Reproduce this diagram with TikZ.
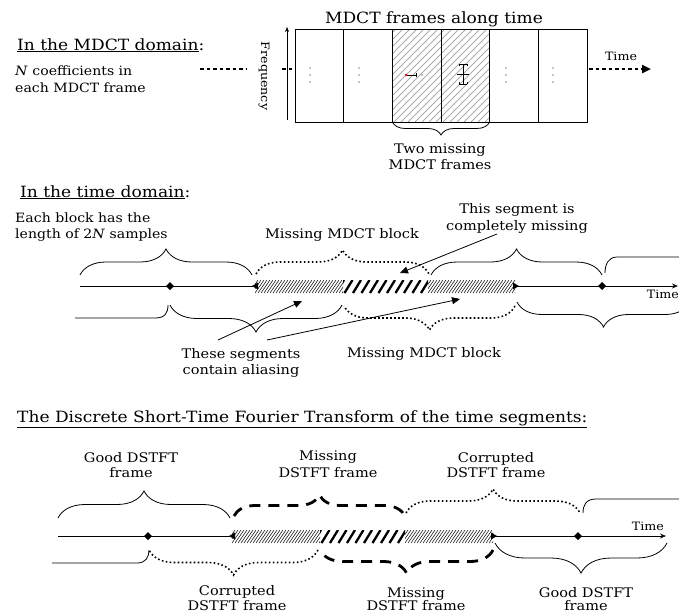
\documentclass[tikz,border=0pt]{standalone}
\usepackage{fontspec}
\setmainfont{DejaVu Serif}[FakeStretch=1.1]
\usetikzlibrary{decorations.pathreplacing,arrows.meta}
\begin{document}
\begin{tikzpicture}[x=1pt,y=-1pt,
  txt/.style={inner sep=0pt, anchor=base},
  ttl/.style={txt, font=\fontsize{15.5}{18}\selectfont},
  lbl/.style={txt, font=\fontsize{13.2}{15}\selectfont},
  sml/.style={txt, font=\fontsize{12.8}{14}\selectfont},
  tim/.style={txt, font=\fontsize{11.5}{13}\selectfont},
  brc/.style={decorate, decoration={brace, amplitude=#1}},
  brc/.default=25pt,
  ln/.style={line width=0.8pt},
  dotb/.style={line width=1.6pt, dash pattern=on 1.6pt off 2.4pt},
  bigdots/.style={line width=2.4pt, dash pattern=on 3.5pt off 3pt},
  bigdash/.style={line width=2.8pt, dash pattern=on 11pt off 8pt},
  tri/.style={-{Triangle[length=8pt,width=7pt]}, line width=0.8pt},
]
\path[use as bounding box, clip] (0,0) rectangle (679,614);

%% ================= TOP: MDCT domain =================
\node[ttl, anchor=base west] (mdctdom) at (17,50) {\underline{In the MDCT domain}:};
\node[sml, anchor=base west] (ncoefa) at (15,75) {\textit{N} coefficients in};
\node[sml, anchor=base west] (ncoefb) at (15,92) {each MDCT frame};
\node[ttl] (framesttl) at (434,23) {MDCT frames along time};

\begin{scope}
  \clip (392.3,29) rectangle (489.7,122);
  \foreach \x in {296,303,...,496} \draw[gray!65, line width=0.8pt] (\x,122) -- ++(93,-93);
\end{scope}
\draw[line width=0.9pt] (295,29) rectangle (587,122);
\foreach \x in {343.7,392.3,441,489.7,538.3} \draw[line width=0.9pt] (\x,29) -- (\x,122);
\foreach \x in {310,359,506,553} \foreach \y in {68,75,82} \fill (\x,\y) circle (0.6);
\fill[red] (406,75) circle (1.3);
\draw[line width=0.6pt] (407,75) -- (416,75) (416,73) -- (416,77);
\fill (422,75) circle (0.6);
\draw[line width=0.7pt] (459,64) -- (467,64) (459,64) -- (459,66) (467,64) -- (467,66)
  (459,84) -- (467,84) (459,84) -- (459,82) (467,84) -- (467,82)
  (457,74) -- (469,74) (463,64) -- (463,84);

\draw[-{Stealth[length=5pt,width=4pt]}, line width=0.7pt] (287,120) -- (287,27);
\node[tim, rotate=-90, anchor=center] (freq) at (264,76) {Frequency};
\draw[bigdots] (200,69) -- (247,69);
\draw[bigdots] (282,69) -- (294,69);
\draw[bigdots, -{Triangle[length=9pt,width=8pt]}] (589,69) -- (651,69);
\node[tim] (timea) at (621,60) {Time};

\draw[brc=13pt, ln] (489.7,122) -- (392.3,122);
\node[lbl] (twomissa) at (440,153) {Two missing};
\node[lbl] (twomissb) at (440,169) {MDCT frames};

%% ================= MIDDLE: time domain =================
\node[ttl, anchor=base west] (timedom) at (20,197) {\underline{In the time domain}:};
\node[sml, anchor=base west] (eacha) at (15,222) {Each block has the};
\node[sml, anchor=base west] (eachb) at (15,238) {length of 2\textit{N} samples};

% hatch
\begin{scope}
  \clip (255,280) rectangle (343,293);
  \foreach \x in {243,246,...,345} \draw[line width=0.5pt] (\x,293) -- ++(9,-13);
\end{scope}
\begin{scope}
  \clip (428,280) rectangle (515,293);
  \foreach \x in {416,419,...,517} \draw[line width=0.5pt] (\x,293) -- ++(9,-13);
\end{scope}
\begin{scope}
  \clip (343,280) rectangle (428,293);
  \foreach \x in {336,344.5,...,430} \draw[line width=2.3pt] (\x,293) -- ++(8,-13);
\end{scope}
\draw[ln] (80,286) -- (253,286);
\draw[ln, -{Stealth[length=6pt,width=5pt,open]}] (517,286) -- (678,286);
\fill (252,286) -- (258,282.5) -- (258,289.5) -- cycle;
\fill (519,286) -- (513,282.5) -- (513,289.5) -- cycle;
\foreach \x in {170,602} \fill (\x-4,286) -- (\x,282) -- (\x+4,286) -- (\x,290) -- cycle;
\node[tim, anchor=base east] (timeb) at (679,298) {Time};

% top braces
\draw[brc=26pt, ln] (80,275) -- (252,275);
\draw[brc=24pt, dotb] (256,274) -- (429,274);
\draw[brc=26pt, ln] (431,275) -- (602,275);
\draw[ln] (605,273) .. controls (605,265) and (608,257) .. (617,257) -- (680,257);
\node[lbl] (mmba) at (342,238) {Missing MDCT block};

% bottom braces
\draw[ln] (168,305) .. controls (168,313) and (165,318) .. (155,318) -- (75,318);
\draw[brc=27pt, ln] (342,305) -- (170,305);
\draw[brc=24pt, dotb] (515,306) -- (344,306);
\draw[brc=25pt, ln] (690,302) -- (517,302);
\node[lbl] (mmbb) at (424,357) {Missing MDCT block};

% annotations
\node[lbl] (segmissa) at (517,213) {This segment is};
\node[lbl] (segmissb) at (517,230) {completely missing};
\coordinate (segtip) at (400,273);
\draw[tri] (497,234) -- (segtip);
\node[lbl] (aliasa) at (241,358) {These segments};
\node[lbl] (aliasb) at (241,374) {contain aliasing};
\coordinate (aliastipa) at (302,301);
\coordinate (aliastipb) at (460,299);
\draw[tri] (218,340) -- (aliastipa);
\draw[tri] (267,340) -- (aliastipb);

%% ================= BOTTOM: DSTFT =================
\node[ttl, anchor=base west] (dstftttl) at (17,422) {\underline{The Discrete Short-Time Fourier Transform of the time segments:}};

\begin{scope}
  \clip (232,530) rectangle (320,543);
  \foreach \x in {220,223,...,322} \draw[line width=0.5pt] (\x,543) -- ++(9,-13);
\end{scope}
\begin{scope}
  \clip (405,530) rectangle (493,543);
  \foreach \x in {393,396,...,495} \draw[line width=0.5pt] (\x,543) -- ++(9,-13);
\end{scope}
\begin{scope}
  \clip (320,530) rectangle (405,543);
  \foreach \x in {313,321.5,...,407} \draw[line width=2.3pt] (\x,543) -- ++(8,-13);
\end{scope}
\draw[ln] (58,536) -- (230,536);
\draw[ln, -{Stealth[length=6pt,width=5pt,open]}] (495,536) -- (666,536);
\fill (229,536) -- (235,532.5) -- (235,539.5) -- cycle;
\fill (497,536) -- (491,532.5) -- (491,539.5) -- cycle;
\foreach \x in {148,578} \fill (\x-4,536) -- (\x,532) -- (\x+4,536) -- (\x,540) -- cycle;
\node[tim, anchor=base east] (timec) at (664,530) {Time};

% top braces
\draw[brc=27pt, ln] (58,518) -- (230,518);
\draw[brc=21pt, bigdash] (234,516) -- (405,516);
\draw[brc=24pt, dotb] (406,513) -- (580,513);
\draw[ln] (583,513) .. controls (583,505) and (586,499) .. (596,499) -- (680,499);
\node[lbl] (gooda) at (131,462) {Good DSTFT};
\node[lbl] (goodb) at (131,477) {frame};
\node[lbl] (missa) at (328,460) {Missing};
\node[lbl] (missb) at (328,477) {DSTFT frame};
\node[lbl] (corra) at (496,462) {Corrupted};
\node[lbl] (corrb) at (496,477) {DSTFT frame};

% bottom braces
\draw[ln] (149,550) .. controls (149,557) and (146,563) .. (137,563) -- (52,563);
\draw[brc=25pt, dotb] (318,550) -- (149,550);
\draw[brc=23pt, bigdash] (493,550) -- (320,550);
\draw[brc=30pt, ln] (667,543) -- (495,543);
\node[lbl] (corrc) at (237,595) {Corrupted};
\node[lbl] (corrd) at (237,610) {DSTFT frame};
\node[lbl] (missc) at (416,597) {Missing};
\node[lbl] (missd) at (416,610) {DSTFT frame};
\node[lbl] (goodc) at (586,597) {Good DSTFT};
\node[lbl] (goodd) at (586,610) {frame};
\end{tikzpicture}
\end{document}
